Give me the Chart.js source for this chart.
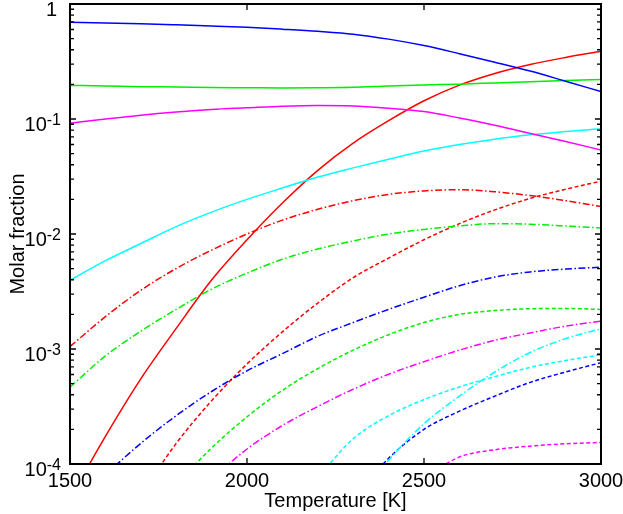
<!DOCTYPE html>
<html>
<head>
<meta charset="utf-8">
<script src="https://cdn.jsdelivr.net/npm/chart.js@4/dist/chart.umd.min.js"></script>
<style>
  html, body { margin: 0; padding: 0; background: #fff; }
  canvas { display: block; }
</style>
</head>
<body>
<canvas id="c" width="623" height="514"></canvas>
<script>
// ---------- data ----------
const temperatures = [1500, 1600, 1700, 1800, 1900, 2000, 2100, 2200, 2300, 2400, 2500, 2600, 2700, 2800, 2900, 3000];

// solid lines
const blueSolid    = [0.693, 0.684, 0.673, 0.659, 0.644, 0.627, 0.604, 0.579, 0.547, 0.495, 0.435, 0.370, 0.312, 0.261, 0.213, 0.173];
const greenSolid   = [0.196, 0.194, 0.191, 0.190, 0.188, 0.187, 0.186, 0.187, 0.189, 0.194, 0.198, 0.201, 0.206, 0.211, 0.216, 0.221];
const magentaSolid = [0.092, 0.100, 0.108, 0.115, 0.121, 0.125, 0.129, 0.131, 0.130, 0.124, 0.116, 0.102, 0.0881, 0.0750, 0.0637, 0.0538];
const cyanSolid    = [0.00396, 0.00586, 0.00826, 0.0116, 0.0155, 0.0200, 0.0251, 0.0313, 0.0376, 0.0447, 0.0527, 0.0600, 0.0668, 0.0728, 0.0780, 0.0822];
const redSolid     = [5.0e-5, 1.74e-4, 5.5e-4, 1.51e-3, 3.98e-3, 8.91e-3, 0.0186, 0.0358, 0.0617, 0.0966, 0.144, 0.197, 0.249, 0.298, 0.343, 0.388];

// dash-dot lines
const redDashDot     = [1.05e-3, 1.91e-3, 3.24e-3, 5.01e-3, 7.24e-3, 0.0100, 0.0132, 0.0164, 0.0195, 0.0221, 0.0237, 0.0243, 0.0233, 0.0216, 0.0195, 0.0173];
const greenDashDot   = [4.66e-4, 8.7e-4, 1.43e-3, 2.21e-3, 3.31e-3, 4.57e-3, 6.03e-3, 7.41e-3, 8.71e-3, 0.0100, 0.01096, 0.01175, 0.0123, 0.01216, 0.01175, 0.01127];
const blueDashDot    = [3.5e-5, 7.9e-5, 1.51e-4, 2.63e-4, 4.27e-4, 6.46e-4, 9.12e-4, 1.29e-3, 1.70e-3, 2.21e-3, 2.82e-3, 3.55e-3, 4.22e-3, 4.68e-3, 4.95e-3, 5.15e-3];
const magentaDashDot = [null, null, null, null, 7.4e-5, 1.35e-4, 2.16e-4, 3.16e-4, 4.47e-4, 6.03e-4, 7.76e-4, 9.77e-4, 1.19e-3, 1.38e-3, 1.58e-3, 1.75e-3];
const cyanDashDot    = [null, null, null, null, null, null, null, null, 4.5e-5, 1.08e-4, 2.24e-4, 3.89e-4, 6.31e-4, 9.33e-4, 1.23e-3, 1.50e-3];

// dashed lines
const redDashed     = [null, null, 5.4e-5, 1.51e-4, 3.55e-4, 7.41e-4, 1.41e-3, 2.51e-3, 4.17e-3, 6.17e-3, 8.91e-3, 0.0123, 0.0162, 0.0204, 0.0245, 0.0288];
const greenDashed   = [null, null, null, 6.6e-5, 1.38e-4, 2.57e-4, 4.37e-4, 6.76e-4, 9.77e-4, 1.33e-3, 1.70e-3, 2.00e-3, 2.16e-3, 2.24e-3, 2.25e-3, 2.21e-3];
const blueDashed    = [null, null, null, null, null, null, null, null, 5.0e-5, 1.12e-4, 2.0e-4, 2.88e-4, 3.89e-4, 5.13e-4, 6.31e-4, 7.6e-4];
const cyanDashed    = [null, null, null, null, null, null, null, 7.6e-5, 1.66e-4, 2.63e-4, 3.63e-4, 4.68e-4, 5.75e-4, 6.92e-4, 7.94e-4, 8.9e-4];
const magentaDashed = [null, null, null, null, null, null, null, null, null, null, 7.6e-5, 1.15e-4, 1.33e-4, 1.43e-4, 1.50e-4, 1.54e-4];

// axis ticks / labels
const xTicks = [1500, 2000, 2500, 3000];
const yTickExponents = [-4, -3, -2, -1, 0];
const xTitle = 'Temperature [K]';
const yTitle = 'Molar fraction';

// ---------- styling ----------
const COLORS = { red: '#ff0000', green: '#00ee00', blue: '#0000ff', magenta: '#ff00ff', cyan: '#00ffff' };
const SOLID = [];
const DASHED = [4, 2.5];
const DASHDOT = [7, 2.5, 1.5, 2.5];
const FONT = "'Liberation Sans', Arial, Helvetica, sans-serif";

const seriesDefs = [
  [blueSolid, COLORS.blue, SOLID],
  [greenSolid, COLORS.green, SOLID],
  [magentaSolid, COLORS.magenta, SOLID],
  [cyanSolid, COLORS.cyan, SOLID],
  [redSolid, COLORS.red, SOLID],
  [redDashDot, COLORS.red, DASHDOT],
  [greenDashDot, COLORS.green, DASHDOT],
  [blueDashDot, COLORS.blue, DASHDOT],
  [magentaDashDot, COLORS.magenta, DASHDOT],
  [cyanDashDot, COLORS.cyan, DASHDOT],
  [redDashed, COLORS.red, DASHED],
  [greenDashed, COLORS.green, DASHED],
  [blueDashed, COLORS.blue, DASHED],
  [cyanDashed, COLORS.cyan, DASHED],
  [magentaDashed, COLORS.magenta, DASHED]
];

const datasets = seriesDefs.map(([vals, color, dash]) => ({
  data: temperatures.map((t, i) => ({ x: t, y: vals[i] })),
  borderColor: color,
  borderWidth: 1.5,
  borderDash: dash,
  pointRadius: 0,
  fill: false,
  cubicInterpolationMode: 'monotone',
  spanGaps: false
}));

// frame, inward ticks and superscript y labels
const framePlugin = {
  id: 'frameTicks',
  afterDatasetsDraw(chart) {
    const { ctx, chartArea: a, scales } = chart;
    const x = scales.x, y = scales.y;
    ctx.save();
    ctx.strokeStyle = '#000';
    ctx.lineWidth = 1.3;
    ctx.beginPath();
    const maxE = Math.max(...yTickExponents);
    yTickExponents.forEach(k => {
      const base = Math.pow(10, k);
      const py = y.getPixelForValue(base);
      ctx.moveTo(a.left, py); ctx.lineTo(a.left + 6, py);
      ctx.moveTo(a.right, py); ctx.lineTo(a.right - 6, py);
      if (k < maxE) {
        for (let m = 2; m <= 9; m++) {
          const pm = y.getPixelForValue(m * base);
          ctx.moveTo(a.left, pm); ctx.lineTo(a.left + 4, pm);
          ctx.moveTo(a.right, pm); ctx.lineTo(a.right - 4, pm);
        }
      }
    });
    xTicks.forEach(t => {
      const px = x.getPixelForValue(t);
      ctx.moveTo(px, a.bottom); ctx.lineTo(px, a.bottom - 6);
      ctx.moveTo(px, a.top); ctx.lineTo(px, a.top + 6);
    });
    ctx.stroke();
    ctx.lineWidth = 2;
    ctx.strokeRect(a.left, a.top, a.right - a.left, a.bottom - a.top);

    // y tick labels with superscript exponents
    ctx.fillStyle = '#000';
    ctx.textBaseline = 'alphabetic';
    ctx.textAlign = 'right';
    const R = 61;
    yTickExponents.forEach(k => {
      const py = y.getPixelForValue(Math.pow(10, k));
      if (k === 0) {
        ctx.font = '20px ' + FONT;
        ctx.fillText('1', R - 4, py + 12);
      } else {
        const sup = String(k);
        ctx.font = '16px ' + FONT;
        const w = ctx.measureText(sup).width;
        ctx.fillText(sup, R, py + 5.5);
        ctx.font = '20px ' + FONT;
        ctx.fillText('10', R - w, py + 11.5);
      }
    });
    ctx.restore();
  }
};

Chart.defaults.font.family = FONT;
Chart.defaults.color = '#000';

new Chart(document.getElementById('c'), {
  type: 'line',
  data: { datasets },
  plugins: [framePlugin],
  options: {
    responsive: false,
    animation: false,
    devicePixelRatio: 1,
    layout: { padding: { top: 4, right: 22, left: 0, bottom: 0 } },
    plugins: { legend: { display: false }, tooltip: { enabled: false } },
    scales: {
      x: {
        type: 'linear',
        min: 1500,
        max: 3000,
        grid: { display: false, drawTicks: false },
        border: { display: false },
        afterBuildTicks(s) { s.ticks = xTicks.map(v => ({ value: v })); },
        ticks: {
          font: { size: 20 },
          color: '#000',
          padding: 5,
          maxRotation: 0,
          autoSkip: false,
          callback: v => String(v)
        },
        title: { display: true, text: xTitle, font: { size: 20 }, color: '#000', padding: { top: 0, bottom: 1 } },
        afterFit(s) { s.height = 50; s.paddingLeft = 0; s.paddingRight = 0; }
      },
      y: {
        type: 'logarithmic',
        min: 1e-4,
        max: 1,
        grid: { display: false, drawTicks: false },
        border: { display: false },
        ticks: { display: false },
        title: { display: true, text: yTitle, font: { size: 20 }, color: '#000', padding: { top: 6, bottom: 0 } },
        afterFit(s) { s.width = 70; s.paddingTop = 0; s.paddingBottom = 0; }
      }
    }
  }
});
</script>
</body>
</html>
